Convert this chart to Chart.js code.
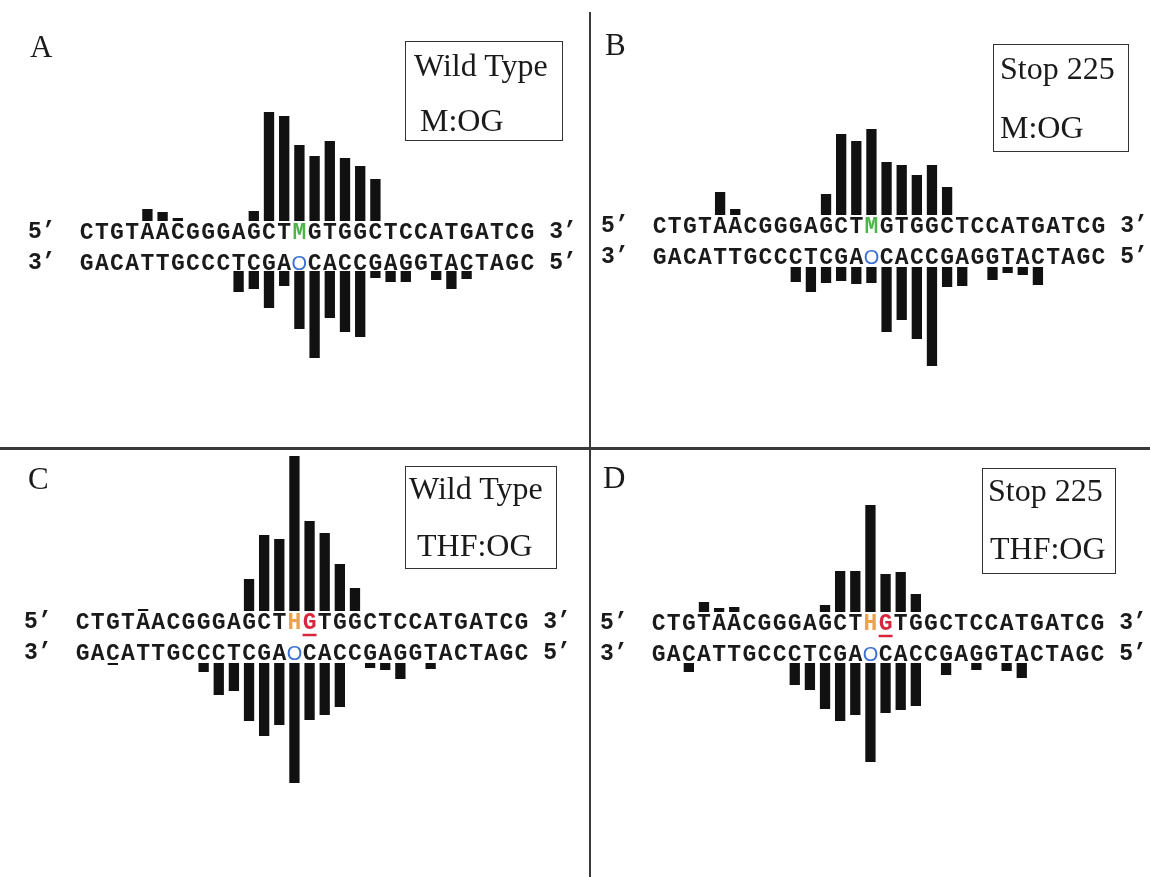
<!DOCTYPE html>
<html>
<head>
<meta charset="utf-8">
<script src="https://cdn.jsdelivr.net/npm/chart.js@4.4.1/dist/chart.umd.min.js"></script>
<style>
  body { margin: 0; background: #fff; }
  #fig { position: relative; width: 1150px; height: 877px; background: #fff; overflow: hidden; }
  #fig canvas { position: absolute; }
  .label, .box span {
    position: absolute; font-family: "Liberation Serif", serif; font-size: 31px;
    line-height: 1; color: #1a1a1a; white-space: nowrap;
  }
  .box span { font-size: 32px; }
  .box { position: absolute; border: 1.5px solid #333; box-sizing: border-box; }
  .rule { position: absolute; background: #3a3a3a; }
</style>
</head>
<body>
<div id="fig">
  <div class="rule" style="left:589px; top:12px; width:1.5px; height:865px;"></div>
  <div class="rule" style="left:0; top:447px; width:1150px; height:2.5px;"></div>
</div>

<script>
// --------------------------- Data

// strands, one character per position
const TOP_STRAND_M = 'CTGTAACGGGAGCTMGTGGCTCCATGATCG'.split('');
const TOP_STRAND_H = 'CTGTAACGGGAGCTHGTGGCTCCATGATCG'.split('');
const BOTTOM_STRAND = 'GACATTGCCCTCGAOCACCGAGGTACTAGC'.split('');

// cleavage intensity per position (top strand up, bottom strand down)
const wtMogTop      = [null,null,null,null,12,9,3,null,null,null, null,10,109,105,76,65,80,63,55,42, null,null,null,null,null,null,null,null,null,null];
const wtMogBottom   = [null,null,null,null,null,null,null,null,null,null, 21,18,37,15,58,87,47,61,66,7, 11,11,null,9,18,8,null,null,null,null];

const stopMogTop    = [null,null,null,null,23,6,null,null,null,null, null,21,81,74,86,53,50,40,50,28, null,null,null,null,null,null,null,null,null,null];
const stopMogBottom = [null,null,null,null,null,null,null,null,null,15, 25,16,14,17,16,65,53,72,99,20, 19,null,13,6,8,18,null,null,null,null];

const wtThfTop      = [null,null,null,null,2,null,null,null,null,null, null,32,76,72,155,90,78,47,23,null, null,null,null,null,null,null,null,null,null,null];
const wtThfBottom   = [null,null,2,null,null,null,null,null,9,32, 28,58,73,62,120,57,52,44,null,5, 7,16,null,6,null,null,null,null,null,null];

const stopThfTop    = [null,null,null,10,4,5,null,null,null,null, null,7,41,41,107,38,40,18,null,null, null,null,null,null,null,null,null,null,null,null];
const stopThfBottom = [null,null,9,null,null,null,null,null,null,22, 27,46,58,52,99,50,47,43,null,12, null,7,null,8,15,null,null,null,null,null];

// --------------------------- Layout of the four panels

const COLORS = {
    bar: '#111111',
    text: '#1a1a1a',
    M: '#4cb648',
    H: '#eea24e',
    G: '#d9263f',
    O: '#3b6fd2',
};

const panels = [
    { letter: 'A', lines: ['Wild Type', 'M:OG'], top: TOP_STRAND_M, topData: wtMogTop, botData: wtMogBottom,
      canvas: [0, 0, 589, 447], area: [79, 535, 110], weights: [111, 50, 89],
      labelPos: [30, 31], box: [405, 41, 158, 100], textPos: [[8, 7], [14, 62]] },
    { letter: 'B', lines: ['Stop 225', 'M:OG'], top: TOP_STRAND_M, topData: stopMogTop, botData: stopMogBottom,
      canvas: [591, 0, 559, 447], area: [652, 1106, 125], weights: [90, 52, 101],
      labelPos: [605, 29], box: [993, 44, 136, 108], textPos: [[6, 7], [6, 66]] },
    { letter: 'C', lines: ['Wild Type', 'THF:OG'], top: TOP_STRAND_H, topData: wtThfTop, botData: wtThfBottom,
      canvas: [0, 449, 589, 428], area: [75, 529, 452], weights: [159, 52, 123],
      labelPos: [28, 463], box: [405, 466, 152, 103], textPos: [[3, 5], [11, 62]] },
    { letter: 'D', lines: ['Stop 225', 'THF:OG'], top: TOP_STRAND_H, topData: stopThfTop, botData: stopThfBottom,
      canvas: [591, 449, 559, 428], area: [651, 1105, 502], weights: [110, 51, 102],
      labelPos: [603, 462], box: [982, 468, 134, 106], textPos: [[5, 5], [7, 63]] },
];

// --------------------------- Plugin drawing the sequences

const sequencePlugin = {
    id: 'sequence',
    afterDatasetsDraw(chart, args, opts) {
        const ctx = chart.ctx;
        const x = chart.scales.x;
        const gap = chart.scales.yGap;
        const step = x.getPixelForValue(1) - x.getPixelForValue(0);
        const yTop = gap.top + 11;
        const yBot = gap.top + 42;
        const last = opts.top.length - 1;
        const bold = 'bold 23px "Liberation Mono", monospace';

        ctx.save();
        ctx.textAlign = 'center';
        ctx.textBaseline = 'middle';

        // strand ends
        ctx.font = bold;
        ctx.fillStyle = COLORS.text;
        ctx.fillText('5\u2019', x.getPixelForValue(0) - 2.95 * step, yTop);
        ctx.fillText('3\u2019', x.getPixelForValue(last) + 2.35 * step, yTop);
        ctx.fillText('3\u2019', x.getPixelForValue(0) - 2.95 * step, yBot);
        ctx.fillText('5\u2019', x.getPixelForValue(last) + 2.35 * step, yBot);

        opts.top.forEach((ch, i) => {
            let color = COLORS.text;
            if (ch === 'M' || ch === 'H') color = COLORS[ch];
            if (opts.markG && i === 15) color = COLORS.G;
            ctx.fillStyle = color;
            ctx.font = bold;
            ctx.fillText(ch, x.getPixelForValue(i), yTop + 1);
        });

        // red underline under the G opposite the lesion
        if (opts.markG) {
            const gx = x.getPixelForValue(15);
            ctx.strokeStyle = COLORS.G;
            ctx.lineWidth = 2.5;
            ctx.beginPath();
            ctx.moveTo(gx - 7, yTop + 13);
            ctx.lineTo(gx + 7, yTop + 13);
            ctx.stroke();
        }

        opts.bottom.forEach((ch, i) => {
            if (ch === 'O') {
                ctx.fillStyle = COLORS.O;
                ctx.font = 'normal 20px "Liberation Sans", sans-serif';
            } else {
                ctx.fillStyle = COLORS.text;
                ctx.font = bold;
            }
            ctx.fillText(ch, x.getPixelForValue(i), yBot + 1);
        });
        ctx.restore();
    }
};

// --------------------------- Methods

function addHtml(fig, p) {
    let lab = document.createElement('div');
    lab.className = 'label';
    lab.textContent = p.letter;
    lab.style.left = p.labelPos[0] + 'px';
    lab.style.top = p.labelPos[1] + 'px';
    fig.appendChild(lab);

    let box = document.createElement('div');
    box.className = 'box';
    box.style.left = p.box[0] + 'px';
    box.style.top = p.box[1] + 'px';
    box.style.width = p.box[2] + 'px';
    box.style.height = p.box[3] + 'px';
    p.lines.forEach((t, i) => {
        let s = document.createElement('span');
        s.textContent = t;
        s.style.left = p.textPos[i][0] + 'px';
        s.style.top = p.textPos[i][1] + 'px';
        box.appendChild(s);
    });
    fig.appendChild(box);
}

function setupPanel(fig, p) {
    const [cl, ct, cw, ch] = p.canvas;
    const canvas = document.createElement('canvas');
    canvas.width = cw;
    canvas.height = ch;
    canvas.style.left = cl + 'px';
    canvas.style.top = ct + 'px';
    fig.appendChild(canvas);

    const [wTop, wGap, wBot] = p.weights;
    const areaTop = p.area[2] - ct;

    const data = {
        labels: p.top,
        datasets: [
            { data: p.topData, yAxisID: 'yTop', backgroundColor: COLORS.bar },
            { data: p.botData, yAxisID: 'yBot', backgroundColor: COLORS.bar },
        ]
    };

    const options = {
        responsive: false,
        animation: false,
        events: [],
        layout: {
            padding: {
                left: p.area[0] - cl,
                right: cl + cw - p.area[1],
                top: areaTop,
                bottom: ch - areaTop - (wTop + wGap + wBot),
            }
        },
        datasets: {
            bar: { grouped: false, barPercentage: 0.68, categoryPercentage: 1 }
        },
        plugins: {
            legend: { display: false },
            tooltip: { enabled: false },
            sequence: { top: p.top, bottom: BOTTOM_STRAND, markG: p.top === TOP_STRAND_H },
        },
        scales: {
            x: { type: 'category', display: false, offset: true },
            // stacked vertical axes: top strand, text gap, bottom strand
            yTop: { type: 'linear', display: false, position: 'left', stack: 'strands', stackWeight: wTop, weight: 3, min: 0, max: wTop },
            yGap: { type: 'linear', display: false, position: 'left', stack: 'strands', stackWeight: wGap, weight: 2, min: 0, max: 1 },
            yBot: { type: 'linear', display: false, position: 'left', stack: 'strands', stackWeight: wBot, weight: 1, min: 0, max: wBot, reverse: true },
        }
    };

    new Chart(canvas, { type: 'bar', data: data, options: options, plugins: [sequencePlugin] });
}

const fig = document.getElementById('fig');
panels.forEach(p => {
    setupPanel(fig, p);
    addHtml(fig, p);
});
</script>
</body>
</html>
